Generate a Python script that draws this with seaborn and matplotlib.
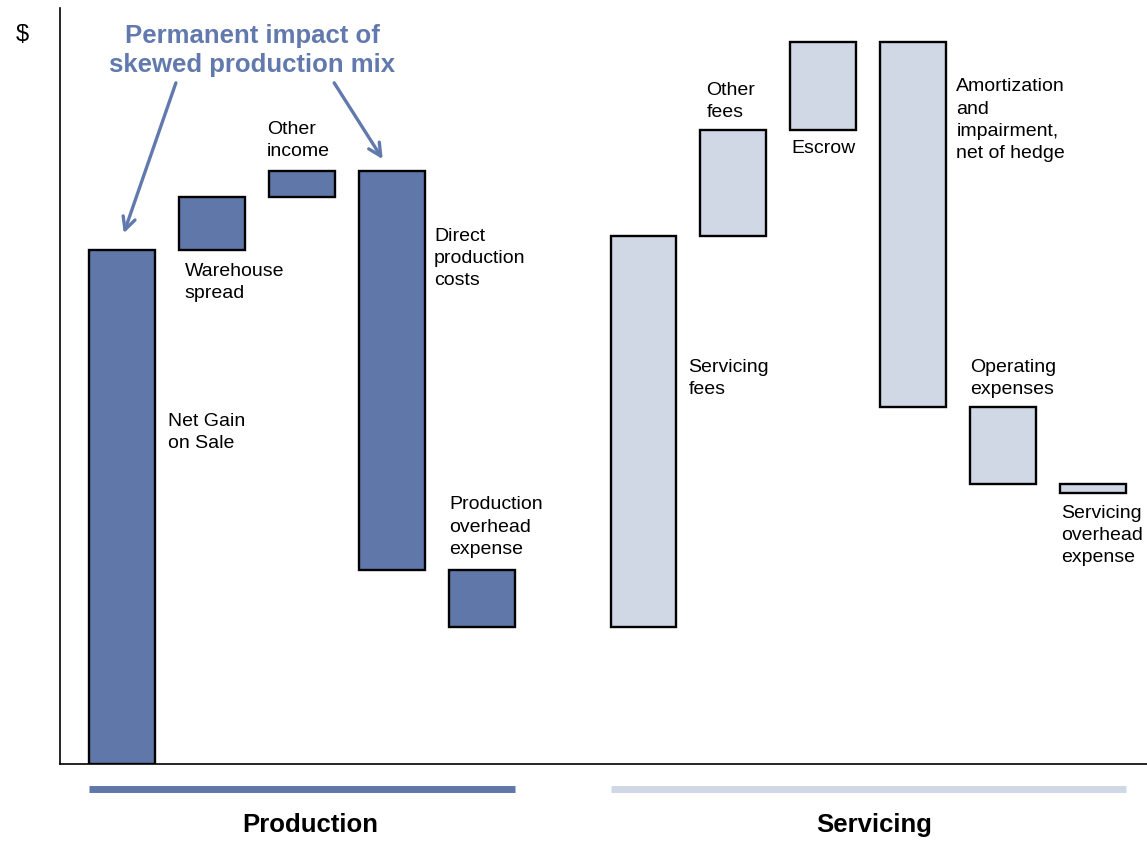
import numpy as np
import pandas as pd
import matplotlib
matplotlib.use("Agg")
import matplotlib.pyplot as plt
import seaborn as sns

# ---- data: waterfall steps in $ (arbitrary units) ----
production_items = ["Net Gain\non Sale", "Warehouse\nspread", "Other\nincome",
                    "Direct\nproduction\ncosts", "Production\noverhead\nexpense"]
production_deltas = [68.0, 7.0, 3.4, -52.7, -7.6]

servicing_items = ["Servicing\nfees", "Other\nfees", "Escrow",
                   "Amortization\nand\nimpairment,\nnet of hedge",
                   "Operating\nexpenses", "Servicing\noverhead\nexpense"]
servicing_deltas = [51.7, 14.1, 11.6, -48.3, -10.2, -1.2]

segment_names = ["Production", "Servicing"]

# ---- styling ----
DARK = "#5f77a9"
LIGHT = "#d0d8e6"
NOTE = "#6179ad"

sns.set_style("white")
plt.rcParams["font.family"] = ["Liberation Sans", "DejaVu Sans"]
plt.rcParams["text.color"] = "black"

# bar positions: one slot per step, with a wider gap between the two segments
seg_gap = 1.8
prod_pos = np.arange(len(production_items), dtype=float)
serv_pos = prod_pos[-1] + seg_gap + np.arange(len(servicing_items), dtype=float)

all_deltas = np.array(production_deltas + servicing_deltas)
running = np.cumsum(all_deltas)
starts = running - all_deltas

df = pd.DataFrame({
    "item": production_items + servicing_items,
    "pos": np.concatenate([prod_pos, serv_pos]),
    "delta": all_deltas,
    "start": starts,
    "segment": [segment_names[0]] * len(production_items) + [segment_names[1]] * len(servicing_items),
})

fig = plt.figure(figsize=(11.47, 8.42), dpi=100)
ax = fig.add_axes([60 / 1147, 78 / 842, 1087 / 1147, 756 / 842])

bar_w = 0.733
seg_colors = {segment_names[0]: DARK, segment_names[1]: LIGHT}
for seg in segment_names:
    sub = df[df["segment"] == seg]
    sns.barplot(data=sub, x="pos", y="delta", native_scale=True, width=bar_w,
                color=seg_colors[seg], saturation=1, edgecolor="black",
                linewidth=1.7, bottom=sub["start"].to_numpy(), errorbar=None,
                ax=ax, zorder=3)

ax.set_xlim(-0.689, 11.40)
ax.set_ylim(0, 100)
ax.set_xticks([])
ax.set_yticks([])
ax.set_xlabel("")
ax.set_ylabel("")
for side in ["top", "right"]:
    ax.spines[side].set_visible(False)
for side in ["left", "bottom"]:
    ax.spines[side].set_color("black")
    ax.spines[side].set_linewidth(1.2)

# step labels (top-left anchor of each text block)
label_anchor = [
    (0.51, 46.4), (0.70, 66.3), (1.61, 85.1), (3.47, 70.9), (3.64, 35.4),
    (6.30, 53.6), (6.50, 90.2), (7.45, 82.5), (9.28, 90.7), (9.43, 53.6), (10.45, 34.3),
]
for text, (lx, ly) in zip(df["item"], label_anchor):
    ax.text(lx, ly, text, ha="left", va="top", fontsize=14,
            linespacing=1.4, color="black", clip_on=False)

# segment underlines and names below the axis
for seg, pos in zip(segment_names, [prod_pos, serv_pos]):
    ax.hlines(-3.37, pos[0] - bar_w / 2, pos[-1] + bar_w / 2,
              colors=seg_colors[seg], linewidth=5.0, clip_on=False)
ax.text(2.09, -8.1, segment_names[0], ha="center", va="center",
        fontsize=18.5, fontweight="bold", color="black", clip_on=False)
ax.text(8.37, -8.1, segment_names[1], ha="center", va="center",
        fontsize=18.5, fontweight="bold", color="black", clip_on=False)

# callout with two arrows
ax.text(1.446, 94.4, "Permanent impact of\nskewed production mix",
        ha="center", va="center", multialignment="center",
        fontsize=18.5, fontweight="bold", color=NOTE, linespacing=1.25)
arrow_kw = dict(arrowstyle="->,head_length=0.9,head_width=0.45",
                color=NOTE, lw=2.4, shrinkA=0, shrinkB=0)
ax.annotate("", xy=(0.02, 70.2), xytext=(0.60, 90.1), arrowprops=arrow_kw)
ax.annotate("", xy=(2.90, 80.0), xytext=(2.36, 90.1), arrowprops=arrow_kw)

fig.text(22 / 1147, 1 - 35 / 842, "$", ha="center", va="center",
         fontsize=17, color="black")

fig.savefig("out.png", dpi=100)
